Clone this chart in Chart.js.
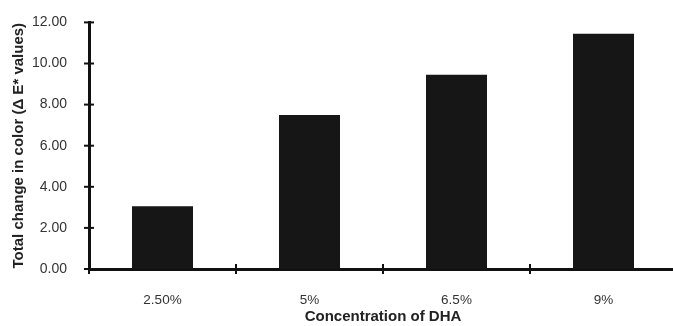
<!DOCTYPE html>
<html lang="en">
<head>
<meta charset="UTF-8">
<title>Total change in color vs DHA concentration</title>
<script src="https://cdn.jsdelivr.net/npm/chart.js@4"></script>
<style>
  html, body { margin: 0; padding: 0; background: #fff; overflow: hidden; }
  #wrap { width: 680px; height: 326px; }
</style>
</head>
<body>
<div id="wrap"><canvas id="chart" width="680" height="326"></canvas></div>
<script>
// Data
const categories = ['2.50%', '5%', '6.5%', '9%'];
const deltaE = [3.05, 7.5, 9.45, 11.45];
const yTicks = [0, 2, 4, 6, 8, 10, 12];

const FONT = "'Liberation Sans', Arial, sans-serif";

// Short tick marks that cross the axis lines on both sides
const crossTicks = {
  id: 'crossTicks',
  afterDraw(chart) {
    const { ctx, scales: { x, y } } = chart;
    ctx.save();
    ctx.strokeStyle = '#111';
    ctx.lineWidth = 2;
    const ax = chart.chartArea.left;
    yTicks.forEach(v => {
      const py = y.getPixelForValue(v);
      ctx.beginPath();
      ctx.moveTo(ax - 5, py);
      ctx.lineTo(ax + 5, py);
      ctx.stroke();
    });
    const ay = chart.chartArea.bottom;
    for (let i = 0; i <= categories.length; i++) {
      const px = x.getPixelForValue(i - 0.5);
      ctx.beginPath();
      ctx.moveTo(px, ay - 5);
      ctx.lineTo(px, ay + 5);
      ctx.stroke();
    }
    ctx.restore();
  }
};

new Chart(document.getElementById('chart'), {
  type: 'bar',
  data: {
    labels: categories,
    datasets: [{
      data: deltaE,
      backgroundColor: '#161616',
      borderWidth: 0,
      categoryPercentage: 1,
      barPercentage: 0.415,
    }],
  },
  options: {
    responsive: false,
    animation: false,
    layout: { padding: { top: 22, right: 3, left: 0, bottom: 0 } },
    plugins: {
      legend: { display: false },
      tooltip: { enabled: false },
    },
    scales: {
      x: {
        offset: true,
        grid: { display: false },
        border: { display: true, color: '#111', width: 3 },
        ticks: {
          color: '#333',
          font: { family: FONT, size: 13.5 },
          padding: 15,
          maxRotation: 0,
        },
        title: {
          display: true,
          text: 'Concentration of DHA',
          color: '#222',
          font: { family: FONT, size: 15, weight: 'bold' },
          padding: { top: 0, bottom: 0 },
        },
        afterFit(scale) { scale.height = 57; },
      },
      y: {
        min: 0,
        max: 12,
        grid: { display: false },
        border: { display: true, color: '#111', width: 3 },
        afterBuildTicks(scale) { scale.ticks = yTicks.map(v => ({ value: v })); },
        ticks: {
          color: '#333',
          font: { family: FONT, size: 14 },
          padding: 14,
          callback: v => v.toFixed(2),
        },
        title: {
          display: true,
          text: 'Total change in color (Δ E* values)',
          color: '#222',
          font: { family: FONT, size: 15, weight: 'bold' },
          padding: { top: 10, bottom: 0 },
        },
        afterFit(scale) { scale.width = 89; },
      },
    },
  },
  plugins: [crossTicks],
});
</script>
</body>
</html>
